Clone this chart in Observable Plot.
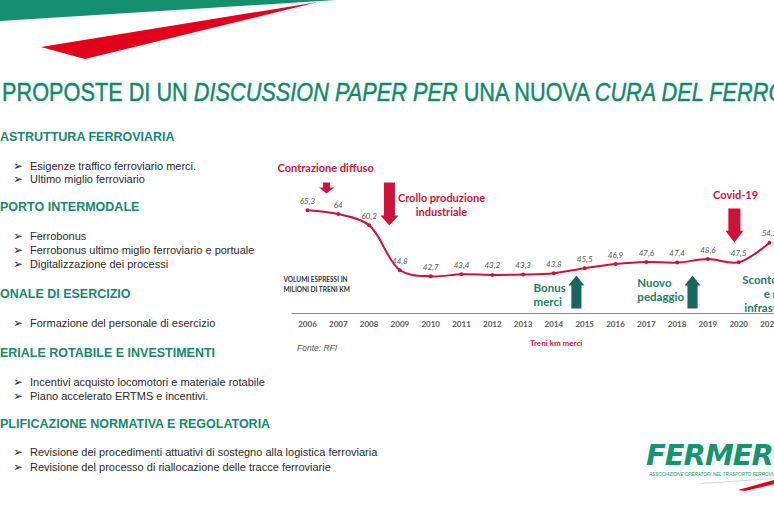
<!DOCTYPE html>
<html><head><meta charset="utf-8">
<script src="https://cdn.jsdelivr.net/npm/d3@7"></script>
<script src="https://cdn.jsdelivr.net/npm/@observablehq/plot@0.6"></script>
<style>
html,body{margin:0;padding:0;background:#fff;}
#slide{position:relative;width:774px;height:516px;overflow:hidden;background:#fff;font-family:"Liberation Sans",Arial,sans-serif;}
.abs{position:absolute;white-space:nowrap;}
.deco{position:absolute;left:0;top:0;width:774px;height:70px;}
.title{left:2px;top:77px;font-family:"Liberation Sans Narrow","Arial Narrow","Liberation Sans",sans-serif;font-size:26px;line-height:30px;color:#0f8a6c;transform:scaleX(0.835);transform-origin:0 0;-webkit-text-stroke:0.45px #0f8a6c;}
.hdr{left:0;font-weight:bold;font-size:12.5px;line-height:16px;color:#138a6e;}
.item{left:13px;font-size:11px;line-height:14px;color:#2a2a2a;}
.item .b{display:inline-block;width:17px;font-family:"DejaVu Sans",sans-serif;font-size:12px;line-height:14px;color:#333;}
#chart{position:absolute;left:270px;top:150px;}
#chart svg{max-width:none;overflow:visible;}
</style></head>
<body>
<div id="slide">
  <div class="deco" style="background:#14906f;clip-path:polygon(0 0,336px 0,0 21px);"></div>
  <div class="deco" style="background:#e2001a;clip-path:polygon(41px 47px,318px 2px,85px 59px);"></div>

  <div class="abs title">PROPOSTE DI UN <i>DISCUSSION PAPER PER</i> UNA NUOVA <i>CURA DEL FERRO</i></div>

  <div class="abs hdr" style="top:129px">ASTRUTTURA FERROVIARIA</div>
  <div class="abs item" style="top:159px"><span class="b">➢</span>Esigenze traffico ferroviario merci.</div>
  <div class="abs item" style="top:172px"><span class="b">➢</span>Ultimo miglio ferroviario</div>

  <div class="abs hdr" style="top:199px">PORTO INTERMODALE</div>
  <div class="abs item" style="top:229px"><span class="b">➢</span>Ferrobonus</div>
  <div class="abs item" style="top:243px"><span class="b">➢</span>Ferrobonus ultimo miglio ferroviario e portuale</div>
  <div class="abs item" style="top:257px"><span class="b">➢</span>Digitalizzazione dei processi</div>

  <div class="abs hdr" style="top:286px">ONALE DI ESERCIZIO</div>
  <div class="abs item" style="top:316px"><span class="b">➢</span>Formazione del personale di esercizio</div>

  <div class="abs hdr" style="top:345px">ERIALE ROTABILE E INVESTIMENTI</div>
  <div class="abs item" style="top:375px"><span class="b">➢</span>Incentivi acquisto locomotori e materiale rotabile</div>
  <div class="abs item" style="top:389px"><span class="b">➢</span>Piano accelerato ERTMS e incentivi.</div>

  <div class="abs hdr" style="top:416px">PLIFICAZIONE NORMATIVA E REGOLATORIA</div>
  <div class="abs item" style="top:445px"><span class="b">➢</span>Revisione dei procedimenti attuativi di sostegno alla logistica ferroviaria</div>
  <div class="abs item" style="top:460px"><span class="b">➢</span>Revisione del processo di riallocazione delle tracce ferroviarie</div>

  <div id="chart"></div>
  <div class="abs" style="left:297px;top:343px;font-size:8.5px;font-style:italic;color:#555;">Fonte: RFI</div>
  <div class="abs" style="left:530px;top:338px;font-family:Lato,sans-serif;font-weight:bold;font-size:8px;color:#cf1237;">Treni km merci</div>

  <div class="abs" style="left:646px;top:438px;font-family:'DejaVu Sans',sans-serif;font-weight:bold;font-style:italic;font-size:29px;line-height:34px;color:#13966f;letter-spacing:-1px;">FERMERCI</div>
  <div class="abs" style="left:649px;top:472px;font-size:4.6px;font-style:italic;color:#13966f;">ASSOCIAZIONE OPERATORI NEL TRASPORTO FERROVIARIO MERCI</div>
  <div class="deco" style="top:470px;height:30px;background:#d8d8d8;clip-path:polygon(700px 13px,774px 8px,774px 9px,702px 14px);"></div>
  <div class="deco" style="top:470px;height:30px;background:#e2001a;clip-path:polygon(738px 20px,774px 10px,774px 14px,745px 21px);"></div>
</div>
<script>
// Treni km merci (milioni) – Fonte RFI
const years   = [2006, 2007, 2008, 2009, 2010, 2011, 2012, 2013, 2014, 2015, 2016, 2017, 2018, 2019, 2020, 2021];
const trainKm = [65.3, 64, 60.2, 44.8, 42.7, 43.4, 43.2, 43.3, 43.8, 45.5, 46.9, 47.6, 47.4, 48.6, 47.5, 54.2];

const noteTexts  = ["Contrazione diffuso", "Crollo produzione\nindustriale", "Covid-19", "Bonus\nmerci", "Nuovo\npedaggio", "Sconto traccia\ne rete\ninfrastrutture"];
const noteYears  = [2005.03, 2010.35, 2019.9, 2013.34, 2016.71, 2021.29];
const noteValues = [79.9, 67.26, 70.68, 36.5, 38.2, 36.84];
const noteKinds  = ["red", "red", "red", "green", "green", "green"];
const noteAnchor = ["start", "middle", "middle", "start", "start", "middle"];

const arrowYears  = [2006.62, 2008.66, 2019.86, 2014.73, 2018.5];
const arrowValues = [74.79, 74.79, 65.9, 31.71, 31.71];
const arrowDirs   = ["down", "down", "down", "up", "up"];
const arrowKinds  = ["red", "red", "red", "green", "green"];

const RED = "#cf1237", GREEN_TXT = "#1b7d69", GREEN_ARW = "#17675b";
const data = years.map((year, i) => ({year, value: trainKm[i]}));
const fmt = v => String(v).replace(".", ",");

// block arrow shapes: [length px, head half-width, shaft ratio, head length ratio]
const arrowGeom = [[11, 7.5, 0.47, 0.8], [43, 9, 0.61, 1.1], [34, 9, 0.67, 1.3], [33, 8, 0.63, 1.25], [33, 8, 0.63, 1.25]];
function blockArrow(sr, hr) {
  return {draw(ctx, l, r) {
    const s = r * sr, h = r * hr;
    ctx.moveTo(-s, 0); ctx.lineTo(-s, -(l - h)); ctx.lineTo(-r, -(l - h));
    ctx.lineTo(0, -l); ctx.lineTo(r, -(l - h)); ctx.lineTo(s, -(l - h)); ctx.lineTo(s, 0); ctx.closePath();
  }};
}

const noteMarks = noteTexts.map((t, i) => Plot.text([{year: noteYears[i], value: noteValues[i], t}], {
  x: "year", y: "value", text: "t", textAnchor: noteAnchor[i],
  fill: noteKinds[i] === "red" ? RED : GREEN_TXT, fontWeight: "bold",
  fontSize: noteKinds[i] === "red" ? 11 : 11.5, lineHeight: 1.25
}));
const arrowMarks = arrowYears.map((x, i) => Plot.vector([{year: x, value: arrowValues[i]}], {
  x: "year", y: "value", length: arrowGeom[i][0], r: arrowGeom[i][1],
  rotate: arrowDirs[i] === "down" ? 180 : 0, anchor: "start",
  shape: blockArrow(arrowGeom[i][2], arrowGeom[i][3]),
  fill: arrowKinds[i] === "red" ? RED : GREEN_ARW, stroke: "none"
}));

const chart = Plot.plot({
  width: 600, height: 200,
  marginLeft: 37, marginRight: 101, marginTop: 46, marginBottom: 37,
  style: {fontFamily: "Lato, sans-serif", background: "transparent", overflow: "visible"},
  x: {domain: [2006, 2021]},
  y: {domain: [30, 70], axis: null},
  marks: [
    Plot.ruleY([30], {x1: 2005.5, x2: 2022.5, stroke: "#8a8a8a", strokeWidth: 1.2}),
    Plot.axisX({ticks: years, tickFormat: d => String(d), tickSize: 0, tickPadding: 8, fontSize: 8, fill: "#555", fontWeight: "bold"}),
    Plot.line(data, {x: "year", y: "value", curve: "catmull-rom", stroke: RED, strokeWidth: 2}),
    Plot.dot(data, {x: "year", y: "value", r: 2, fill: RED}),
    Plot.text(data, {x: "year", y: "value", text: d => fmt(d.value), dy: -9, fontStyle: "italic", fontSize: 8, fill: "#555"}),
    Plot.text([{year: 2005.22, value: 40.26, t: "VOLUMI ESPRESSI IN\nMILIONI DI TRENI KM"}], {x: "year", y: "value", text: "t", textAnchor: "start", fontSize: 6.5, fontWeight: "bold", fill: "#333", lineHeight: 1.6}),
    ...noteMarks,
    ...arrowMarks
  ]
});
document.getElementById("chart").appendChild(chart);
</script>
</body></html>
